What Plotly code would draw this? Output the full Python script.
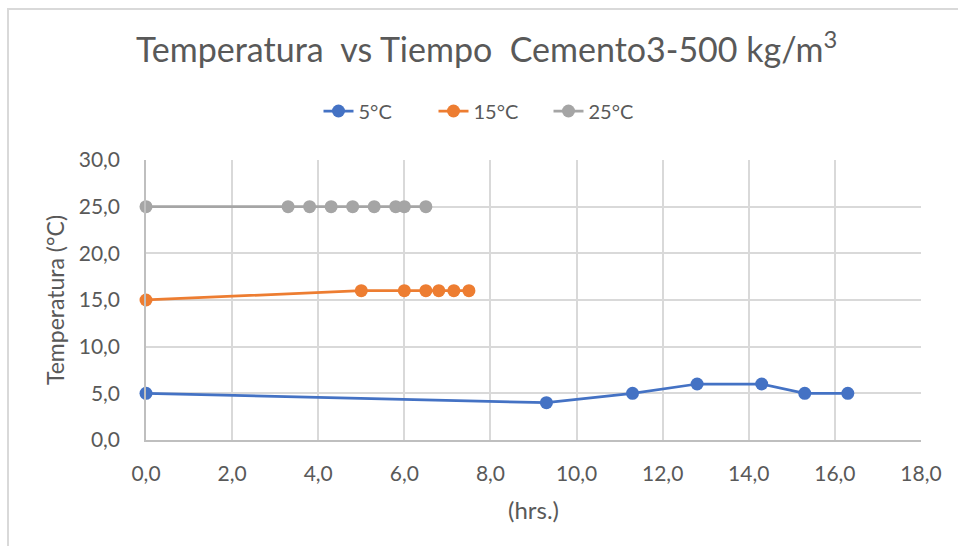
import plotly.graph_objects as go

# Hours since casting and measured temperatures for each curing condition
t_5 = [0.0, 9.3, 11.3, 12.8, 14.3, 15.3, 16.3]
temp_5 = [5, 4, 5, 6, 6, 5, 5]

t_15 = [0.0, 5.0, 6.0, 6.5, 6.8, 7.15, 7.5]
temp_15 = [15, 16, 16, 16, 16, 16, 16]

t_25 = [0.0, 3.3, 3.8, 4.3, 4.8, 5.3, 5.8, 6.0, 6.5]
temp_25 = [25, 25, 25, 25, 25, 25, 25, 25, 25]

series_names = ["5°C", "15°C", "25°C"]
series_colors = ["#4472C4", "#ED7D31", "#A5A5A5"]

FONT = "Lato, 'Open Sans', sans-serif"
TXT = "#595959"

fig = go.Figure()
for x, y, name, color in zip([t_5, t_15, t_25], [temp_5, temp_15, temp_25],
                             series_names, series_colors):
    fig.add_trace(go.Scatter(
        x=x, y=y, name=name, mode="lines+markers",
        line=dict(color=color, width=2.75),
        marker=dict(color=color, size=13),
        cliponaxis=False,
    ))

ML, MR, MT, MB = 146, 37, 160, 106
W, H = 958, 546
PW, PH = W - ML - MR, H - MT - MB


def px_x(p):
    return (p - ML) / PW


def px_y(p):
    return (H - MB - p) / PH


fig.update_layout(
    width=W, height=H,
    margin=dict(l=ML, r=MR, t=MT, b=MB),
    paper_bgcolor="white", plot_bgcolor="white",
    separators=",.",
    font=dict(family=FONT, color=TXT, size=20),
    title=dict(
        text="Temperatura  vs Tiempo  Cemento3-500 kg/m<sup>3</sup>",
        x=0.508, xanchor="center", y=1 - 50 / H, yanchor="middle",
        font=dict(family=FONT, size=34, color=TXT),
    ),
    legend=dict(
        orientation="h", x=px_x(491), xanchor="center",
        y=px_y(111), yanchor="middle",
        font=dict(size=20, color=TXT),
        entrywidth=70, entrywidthmode="pixels",
    ),
    xaxis=dict(
        range=[0, 18], dtick=2, tickformat=".1f",
        showgrid=True, gridcolor="#D9D9D9", gridwidth=1.5,
        showline=True, linecolor="#BFBFBF", linewidth=1.5,
        zeroline=False, ticks="",
        ticklabelstandoff=14,
        tickfont=dict(size=21, color=TXT),
        title=dict(text="(hrs.)", font=dict(size=24, color=TXT), standoff=18),
    ),
    yaxis=dict(
        range=[0, 30], dtick=5, tickformat=".1f",
        showgrid=True, gridcolor="#D9D9D9", gridwidth=1.5,
        showline=True, linecolor="#BFBFBF", linewidth=1.5,
        zeroline=False, ticks="",
        ticklabelstandoff=20,
        tickfont=dict(size=21, color=TXT),
        title=dict(text="Temperatura (°C)", font=dict(size=23, color=TXT), standoff=8),
    ),
    shapes=[
        dict(type="rect", xref="paper", yref="paper",
             x0=px_x(8), x1=px_x(1000), y0=px_y(9), y1=px_y(600),
             line=dict(color="#D9D9D9", width=2), layer="below"),
    ],
)

fig.write_html("out.html")
